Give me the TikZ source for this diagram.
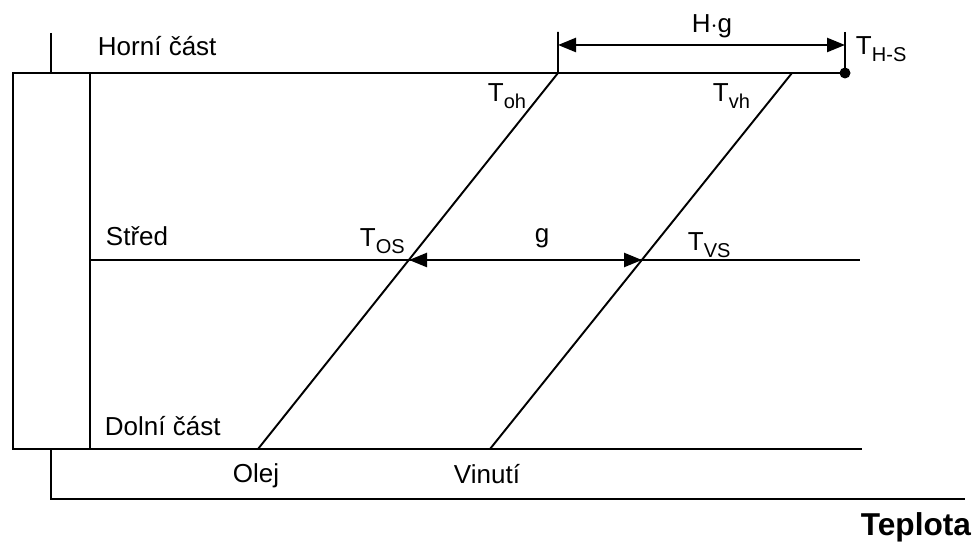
\documentclass[tikz,border=0pt]{standalone}
\usepackage{fontspec}
\setmainfont{Liberation Sans}
\usetikzlibrary{arrows.meta}
\newcommand{\Tsub}[1]{T\raisebox{-3.6pt}{\fontsize{11.4}{13}\selectfont #1}}
\begin{document}
\begin{tikzpicture}[line width=1.1pt, lbl/.style={inner sep=0pt, anchor=base west, font=\fontsize{14.8}{17}\selectfont}, dimarrow/.style={line width=1.4pt, {Triangle[length=0.36cm,width=0.28cm]}-{Triangle[length=0.36cm,width=0.28cm]}}]
	\useasboundingbox (0,0) rectangle (19.54,10.88);
	\coordinate (boxTL) at (0.26,9.42);
	\coordinate (boxBL) at (0.26,1.9);
	\coordinate (inT) at (1.8,9.42);
	\coordinate (inB) at (1.8,1.9);
	\coordinate (midL) at (1.8,5.68);
	\coordinate (midR) at (17.2,5.68);
	\coordinate (botR) at (17.24,1.9);
	\coordinate (tickT) at (1.02,10.22);
	\coordinate (tickB) at (1.02,9.42);
	\coordinate (axT) at (1.02,1.9);
	\coordinate (axO) at (1.02,0.9);
	\coordinate (axR) at (19.3,0.9);
	\coordinate (oilB) at (5.16,1.9);
	\coordinate (oilT) at (11.16,9.42);
	\coordinate (winB) at (9.8,1.9);
	\coordinate (winT) at (15.84,9.42);
	\coordinate (hgL) at (11.16,10.24);
	\coordinate (hgR) at (16.9,10.24);
	\coordinate (hgA) at (11.16,9.98);
	\coordinate (hgB) at (16.9,9.98);
	\coordinate (os) at (8.18,5.68);
	\coordinate (vs) at (12.84,5.68);
	\node[circle, fill, inner sep=0pt, minimum size=0.22cm] (hsdot) at (16.9,9.42) {};

	\draw (hsdot.center) -- (boxTL) -- (boxBL) -- (botR);
	\draw (inT) -- (inB);
	\draw (midL) -- (midR);
	\draw (tickT) -- (tickB);
	\draw (axT) -- (axO) -- (axR);
	\draw (oilB) -- (oilT) -- (hgL);
	\draw (winB) -- (winT);
	\draw (hgR) -- (hsdot.center);
	\draw[dimarrow] (hgA) -- (hgB);
	\draw[dimarrow] (os) -- (vs);

	\node[lbl] (horni) at (1.94,9.76) {Horní část};
	\node[lbl] (stred) at (2.1,5.96) {Střed};
	\node[lbl] (dolni) at (2.08,2.16) {Dolní část};
	\node[lbl] (olej) at (4.64,1.24) {Olej};
	\node[lbl] (vinuti) at (9.06,1.22) {Vinutí};
	\node[lbl, anchor=base] (hg) at (14.24,10.22) {H$\cdot$g};
	\node[lbl, anchor=base] (g) at (10.84,6.02) {g};
	\node[lbl] (ths) at (17.1,9.78) {\Tsub{H-S}};
	\node[lbl] (toh) at (9.74,8.84) {\Tsub{oh}};
	\node[lbl] (tvh) at (14.24,8.84) {\Tsub{vh}};
	\node[lbl] (tos) at (7.18,5.94) {\Tsub{OS}};
	\node[lbl] (tvs) at (13.74,5.86) {\Tsub{VS}};
	\node[inner sep=0pt, anchor=base east, font=\fontsize{18}{21}\selectfont\bfseries] (teplota) at (19.44,0.18) {Teplota};
\end{tikzpicture}
\end{document}
